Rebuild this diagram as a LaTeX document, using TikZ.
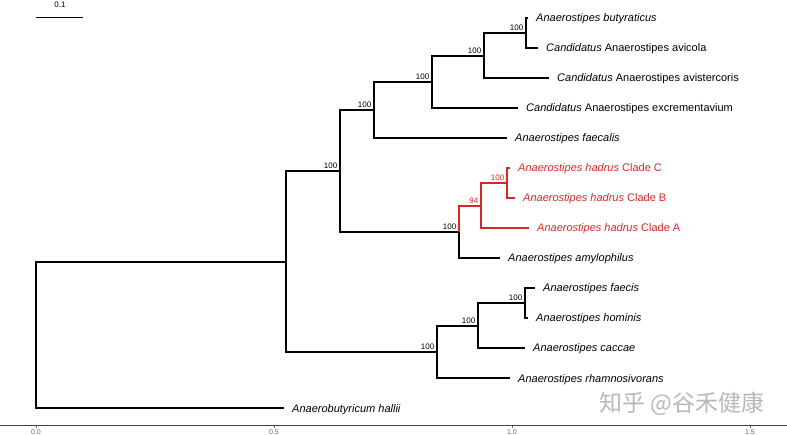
\documentclass[tikz,border=0pt]{standalone}
\usepackage{fontspec}
\setmainfont{Liberation Sans}
\newfontfamily\cjk{Noto Sans CJK SC}
\definecolor{cladered}{RGB}{214,40,40}
\begin{document}
\begin{tikzpicture}[x=1pt,y=-1pt,
  branch/.style={line width=2pt, black},
  redbranch/.style={line width=2pt, cladered},
  tiplab/.style={anchor=base west, inner sep=0pt, xshift=8pt, yshift=-4pt, font=\fontsize{11}{13}\selectfont},
  redtip/.style={tiplab, text=cladered},
  boot/.style={anchor=base east, inner sep=0pt, xshift=-2.5pt, yshift=2.5pt, font=\fontsize{8}{9}\selectfont},
  redboot/.style={boot, text=cladered},
  axislab/.style={inner sep=0pt, text=black!60, font=\fontsize{7}{8}\selectfont}]
\useasboundingbox (0,0) rectangle (787,435);
% tips
\coordinate (t1) at (528,18);
\coordinate (t2) at (538,48);
\coordinate (t3) at (549,78);
\coordinate (t4) at (518,108);
\coordinate (t5) at (507,138);
\coordinate (t6) at (510,168);
\coordinate (t7) at (515,198);
\coordinate (t8) at (529,228);
\coordinate (t9) at (500,258);
\coordinate (t10) at (535,288);
\coordinate (t11) at (528,318);
\coordinate (t12) at (525,348);
\coordinate (t13) at (510,378);
\coordinate (t14) at (284,408);
% internal nodes
\coordinate (n1) at (526,33);
\coordinate (n2) at (484,56);
\coordinate (n3) at (432,82);
\coordinate (n4) at (374,110);
\coordinate (n5) at (507,183);
\coordinate (n6) at (481,206);
\coordinate (n7) at (459,232);
\coordinate (n8) at (340,171);
\coordinate (n9) at (525,303);
\coordinate (n10) at (478,326);
\coordinate (n11) at (437,352);
\coordinate (n12) at (286,262);
\coordinate (root) at (36,335);
% branches
\draw[branch] (n1) |- (t1);
\draw[branch] (n1) |- (t2);
\draw[branch] (n2) |- (n1);
\draw[branch] (n2) |- (t3);
\draw[branch] (n3) |- (n2);
\draw[branch] (n3) |- (t4);
\draw[branch] (n4) |- (n3);
\draw[branch] (n4) |- (t5);
\draw[branch] (n8) |- (n4);
\draw[branch] (n8) |- (n7);
\draw[branch] (n7) |- (t9);
\draw[redbranch] (n7) |- (n6);
\draw[redbranch] (n6) |- (n5);
\draw[redbranch] (n6) |- (t8);
\draw[redbranch] (n5) |- (t6);
\draw[redbranch] (n5) |- (t7);
\draw[branch] (n9) |- (t10);
\draw[branch] (n9) |- (t11);
\draw[branch] (n10) |- (n9);
\draw[branch] (n10) |- (t12);
\draw[branch] (n11) |- (n10);
\draw[branch] (n11) |- (t13);
\draw[branch] (n12) |- (n8);
\draw[branch] (n12) |- (n11);
\draw[branch] (root) |- (n12);
\draw[branch] (root) |- (t14);
% tip labels
\node[tiplab] (l1) at (t1) {\textit{Anaerostipes butyraticus}};
\node[tiplab] (l2) at (t2) {\textit{Candidatus} Anaerostipes avicola};
\node[tiplab] (l3) at (t3) {\textit{Candidatus} Anaerostipes avistercoris};
\node[tiplab] (l4) at (t4) {\textit{Candidatus} Anaerostipes excrementavium};
\node[tiplab] (l5) at (t5) {\textit{Anaerostipes faecalis}};
\node[redtip] (l6) at (t6) {\textit{Anaerostipes hadrus} Clade C};
\node[redtip] (l7) at (t7) {\textit{Anaerostipes hadrus} Clade B};
\node[redtip] (l8) at (t8) {\textit{Anaerostipes hadrus} Clade A};
\node[tiplab] (l9) at (t9) {\textit{Anaerostipes amylophilus}};
\node[tiplab] (l10) at (t10) {\textit{Anaerostipes faecis}};
\node[tiplab] (l11) at (t11) {\textit{Anaerostipes hominis}};
\node[tiplab] (l12) at (t12) {\textit{Anaerostipes caccae}};
\node[tiplab] (l13) at (t13) {\textit{Anaerostipes rhamnosivorans}};
\node[tiplab] (l14) at (t14) {\textit{Anaerobutyricum hallii}};
% bootstrap labels
\node[boot] (b1) at (n1) {100};
\node[boot] (b2) at (n2) {100};
\node[boot] (b3) at (n3) {100};
\node[boot] (b4) at (n4) {100};
\node[redboot] (b5) at (n5) {100};
\node[redboot] (b6) at (n6) {94};
\node[boot] (b7) at (n7) {100};
\node[boot] (b8) at (n8) {100};
\node[boot] (b9) at (n9) {100};
\node[boot] (b10) at (n10) {100};
\node[boot] (b11) at (n11) {100};
% scale bar
\coordinate (sb1) at (36,18);
\coordinate (sb2) at (83,18);
\draw[line width=1pt] (sb1) -- (sb2);
\node[inner sep=0pt, font=\fontsize{8}{9}\selectfont] (sblab) at (60,4.5) {0.1};
% axis
\coordinate (ax1) at (0,425.5);
\coordinate (ax2) at (787,425.5);
\draw[line width=0.8pt, black!75] (ax1) -- (ax2);
\foreach \xx/\lab in {36/0.0, 274/0.5, 512/1.0, 750/1.5}{
  \draw[line width=0.6pt, black!60] (\xx,425.5) -- (\xx,428);
  \node[axislab] at (\xx,432) {\lab};
}
% watermark
\node[inner sep=0pt, text=black!28, font=\cjk\fontsize{23}{25}\selectfont] (wm) at (682,404) {知乎 @谷禾健康};
\end{tikzpicture}
\end{document}
